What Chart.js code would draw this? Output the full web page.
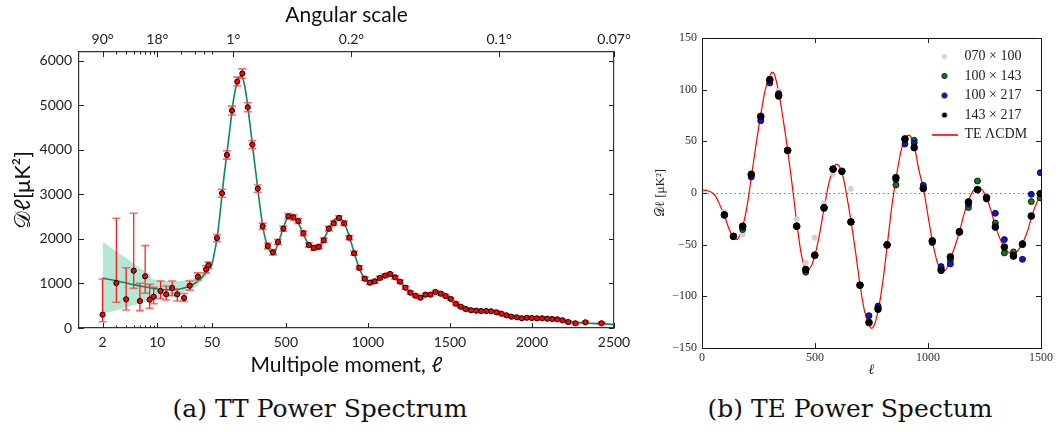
<!DOCTYPE html>
<html>
<head>
<meta charset="utf-8">
<script src="https://cdn.jsdelivr.net/npm/chart.js@4.4.1/dist/chart.umd.min.js"></script>
<style>
  body { margin: 0; background: #fff; width: 1059px; height: 432px; position: relative; overflow: hidden; }
  #ttBox { position: absolute; left: 0; top: 0; width: 650px; height: 385px; }
  #teBox { position: absolute; left: 650px; top: 0; width: 409px; height: 385px; }
  .cap { position: absolute; top: 394px; width: 400px; text-align: center;
         font-family: "DejaVu Serif", serif; font-size: 25px; color: #111; }
</style>
</head>
<body>
<div id="ttBox"><canvas id="tt"></canvas></div>
<div id="teBox"><canvas id="te"></canvas></div>
<div class="cap" style="left:120px">(a) TT Power Spectrum</div>
<div class="cap" style="left:650px">(b) TE Power Spectum</div>
<script>
// ---- (a) TT spectrum ----
const ttEll = [2, 3, 4, 5, 6, 7, 8, 9, 11, 13, 15.5, 18, 22, 26, 33, 42, 45,
  80, 111, 141, 172, 204, 235, 268, 296, 329, 359,
  390, 422, 452, 485, 515, 546, 576, 607, 640, 670,
  701, 731, 762, 792, 824, 855, 887, 916, 948, 981,
  1012, 1042, 1073, 1105, 1135, 1166, 1196, 1229, 1259, 1290,
  1320, 1351, 1381, 1412, 1444, 1474, 1505, 1536, 1566, 1597,
  1629, 1660, 1690, 1721, 1751, 1784, 1814, 1845, 1875, 1908,
  1938, 1969, 1999, 2030, 2062, 2093, 2123, 2154, 2186, 2221,
  2265, 2326, 2424];
const ttD = [300, 1011, 645, 1288, 607, 1161, 637, 704, 831, 757, 899, 757, 674, 951, 1153, 1318, 1409,
  2020, 3027, 3888, 4884, 5535, 5715, 4959, 4120, 3131, 2285,
  1843, 1700, 1932, 2232, 2510, 2487, 2404, 2127, 1865, 1798,
  1823, 1970, 2232, 2352, 2472, 2352, 2030, 1678, 1352, 1109,
  1019, 1049, 1124, 1176, 1213, 1139, 1041, 906, 794, 726,
  681, 749, 749, 809, 771, 719, 652, 546, 479, 427,
  398, 389, 382, 382, 375, 353, 321, 285, 254, 240,
  218, 231, 225, 218, 218, 209, 202, 195, 173, 135,
  106, 128, 106];
const ttErrHi = [800, 1454, 710, 1289, 397, 689, 344, 210, 225, 187, 157, 120, 100, 105, 85, 80, 70,
  80, 90, 95, 100, 100, 105, 100, 90, 80, 70,
  65, 60, 60, 60, 60, 60, 55, 55, 50, 50,
  50, 50, 50, 50, 50, 50, 45, 45, 45, 40,
  40, 40, 35, 35, 35, 35, 35, 35, 30, 30,
  30, 30, 30, 30, 30, 30, 30, 30, 25, 25,
  25, 25, 25, 25, 25, 25, 25, 25, 25, 25,
  25, 25, 25, 25, 25, 25, 25, 25, 25, 25,
  25, 25, 25];
const ttErrLo = [160, 434, 241, 396, 217, 381, 195, 158, 173, 128, 173, 150, 80, 100, 75, 80, 70,
  80, 90, 95, 100, 100, 105, 100, 90, 80, 70,
  65, 60, 60, 60, 60, 60, 55, 55, 50, 50,
  50, 50, 50, 50, 50, 50, 45, 45, 45, 40,
  40, 40, 35, 35, 35, 35, 35, 35, 30, 30,
  30, 30, 30, 30, 30, 30, 30, 30, 25, 25,
  25, 25, 25, 25, 25, 25, 25, 25, 25, 25,
  25, 25, 25, 25, 25, 25, 25, 25, 25, 25,
  25, 25, 25];
const ttModelEll = [2, 3, 4, 5, 6, 8, 10, 13, 16, 20, 25, 30, 35, 40, 45, 50,
  60, 80, 100, 120, 140, 160, 180, 200, 215, 225, 240, 260, 280, 300,
  320, 340, 360, 380, 400, 420, 440, 460, 480, 500, 520, 540, 560, 580, 600,
  620, 640, 660, 680, 700, 720, 740, 760, 780, 800, 820, 840, 860, 880, 900,
  920, 940, 960, 980, 1000, 1020, 1040, 1060, 1080, 1100, 1120, 1140, 1160, 1180, 1200,
  1220, 1240, 1260, 1280, 1300, 1320, 1340, 1360, 1380, 1400, 1420, 1440, 1460, 1480, 1500,
  1520, 1540, 1560, 1580, 1600, 1640, 1680, 1720, 1760, 1800, 1840, 1880, 1920, 1960, 2000,
  2050, 2100, 2150, 2200, 2250, 2300, 2350, 2400, 2450, 2500];
const ttModelD = [1120, 1060, 1010, 975, 945, 905, 875, 860, 860, 880, 930, 1000, 1090, 1200, 1310, 1430,
  1600, 2000, 2600, 3300, 3900, 4500, 5100, 5480, 5630, 5660, 5580, 5200, 4620, 4000,
  3400, 2800, 2270, 1930, 1740, 1690, 1780, 1980, 2200, 2400, 2500, 2510, 2450, 2330, 2170,
  2000, 1870, 1800, 1790, 1820, 1910, 2060, 2220, 2360, 2450, 2480, 2430, 2320, 2130, 1900,
  1650, 1420, 1240, 1110, 1040, 1020, 1040, 1090, 1140, 1180, 1205, 1205, 1170, 1110, 1030,
  940, 860, 790, 740, 710, 700, 715, 745, 775, 795, 795, 775, 740, 690, 630,
  570, 520, 475, 445, 420, 395, 385, 380, 370, 340, 300, 265, 240, 225, 220,
  215, 205, 190, 165, 135, 115, 105, 98, 92, 75];
// cosmic variance band at low multipoles
const cvEll = [2, 3, 4, 5, 6, 8, 8.5, 10, 15, 20, 30, 40, 50];
const cvHigh = [1940, 1720, 1570, 1450, 1350, 1200, 1100, 1080, 1050, 1055, 1120, 1280, 1490];
const cvLow = [320, 400, 460, 510, 550, 620, 630, 650, 720, 780, 900, 1110, 1370];

const ttXTicks = [2, 3, 4, 5, 6, 7, 8, 9, 10, 20, 30, 40, 50, 500, 1000, 1500, 2000, 2500];
const ttXLabels = ['2', '', '', '', '', '', '', '', '10', '', '', '', '50', '500', '1000', '1500', '2000', '2500'];
const angTicks = [2, 3, 4, 5, 6, 7, 8, 9, 10, 20, 30, 40, 50, 180, 900, 1800, 2500];
const angLabels = ['90°', '', '', '', '', '', '', '', '18°', '', '', '', '', '1°', '0.2°', '0.1°', '0.07°'];
const ttYTicks = [0, 1000, 2000, 3000, 4000, 5000, 6000];

// ---- (b) TE spectrum ----
const teEll = [99, 139, 180, 218, 260, 300, 339, 379, 419, 459, 499, 540, 580, 619, 659, 699, 739, 779,
  819, 858, 898, 939, 979, 1019, 1058, 1099, 1139, 1179, 1219, 1259, 1298, 1338, 1378, 1418, 1457, 1497];
const te070x100 = [-18.4, -42, -40, 18, 74, 111, 98.7, 41, -25.5, -67.7, -43.2, -10, 18.4, 21, 4,
  null, null, null, null, null, null, null, null, null, null, null, null, null, null, null, null, null, null, null, null, null];
const te100x143 = [-21, -42, -35.4, 17, 73, 109, 96.2, 41, -32, -76.7, -60, -14, 23, 21, -28, -89, -125, -113,
  -50, 7.7, 52, 51, 5, -46, -73, -65.1, -38, -14.1, 11.6, -5, -29, -58, -57, -49, -8.3, -4.8];
const te100x217 = [-21, -42, -33, 15.5, 70, 106.5, 93.5, 41, -32, -74, -60, -14, 23, 21, -28, -89, -118.7, -109.4,
  -50, 13, 47.4, 48.4, 7.5, -48, -71.2, -68.7, -37, -10.9, 3, -5.8, -19.6, -45.1, -60, -64.2, -1.3, 19.7];
const te143x217 = [-21.3, -41.9, -32.2, 18.1, 74.2, 109.7, 94.6, 41.3, -32.2, -74.2, -60.3, -14.5, 23.2, 21, -28, -89.3, -125.4, -111.9,
  -50.3, 14.9, 52.3, 43.9, 4.3, -46.5, -74.8, -61.9, -37.7, -8.7, 3.3, -4.5, -32.9, -52.3, -61, -49.6, -22.3, -0.6];
const teModelEll = [0, 20, 40, 60, 80, 100, 120, 140, 155, 170, 180, 200, 220, 240, 260, 280, 300, 310, 320, 340,
  360, 380, 400, 420, 440, 460, 470, 485, 500, 520, 540, 560, 580, 595, 610, 625, 640, 660, 680, 700,
  720, 740, 750, 760, 780, 800, 820, 840, 860, 880, 900, 915, 930, 940, 960, 980, 1000, 1020, 1040, 1060,
  1075, 1100, 1120, 1140, 1160, 1180, 1200, 1220, 1240, 1260, 1280, 1300, 1320, 1340, 1360, 1380, 1400, 1420, 1440, 1460,
  1480, 1500];
const teModelD = [3, 2.5, 1, -3, -12, -22, -35, -43, -45, -40, -33, -12, 18, 48, 76, 100, 113, 117, 115, 97,
  70, 40, 6, -30, -60, -74, -74, -70, -60, -40, -15, 8, 23, 28, 25, 15, -2, -28, -58, -90,
  -115, -128, -131, -129, -113, -86, -50, -13, 16, 40, 53, 56, 52, 45, 22, 4, -22, -47, -66, -75,
  -75, -63, -51, -37, -20, -7, 2, 5, 3, -5, -18, -33, -45, -53, -58, -59, -55, -48, -37, -22,
  -10, -2];
const teXTicks = [0, 500, 1000, 1500];
const teXLabels = ['0', '500', '1000', '1500'];
const teYTicks = [-150, -100, -50, 0, 50, 100, 150];
const teYLabels = ['\u2212150', '\u2212100', '\u221250', '0', '50', '100', '150'];

// log for l <= 50, linear above, like the Planck plot
class HybridScale extends Chart.LinearScale {
  static id = 'hybrid';
  static defaults = { ...Chart.LinearScale.defaults };
  frac(v) {
    const brk = 50, top = 2500, logPart = 0.2486;
    if (v <= brk) return logPart * Math.log10(Math.max(v, 1)) / Math.log10(brk);
    return logPart + (1 - logPart) * (v - brk) / (top - brk);
  }
  getPixelForValue(v) {
    if (v === null || v === undefined || isNaN(v)) return NaN;
    return this.getPixelForDecimal(this.frac(v));
  }
  getValueForPixel(p) {
    const d = this.getDecimalForPixel(p), logPart = 0.2486;
    if (d <= logPart) return Math.pow(10, d / logPart * Math.log10(50));
    return 50 + (d - logPart) / (1 - logPart) * 2450;
  }
}
Chart.register(HybridScale);

const pts = (xs, ys) => xs.map((x, i) => ({ x: x, y: ys[i] }));
const setTicks = (values) => (scale) => { scale.ticks = values.map(v => ({ value: v })); };

// matplotlib style ticks pointing into the plot
const inwardTicks = {
  id: 'inwardTicks',
  afterDraw(chart) {
    const { ctx, chartArea: a } = chart;
    ctx.save();
    ctx.strokeStyle = '#222';
    ctx.lineWidth = 1;
    Object.values(chart.scales).forEach(s => {
      s.ticks.forEach(t => {
        const len = t.label === '' ? 2.5 : 5;
        const p = Math.round(s.getPixelForValue(t.value)) + 0.5;
        ctx.beginPath();
        if (s.position === 'bottom') { ctx.moveTo(p, a.bottom); ctx.lineTo(p, a.bottom - len); }
        if (s.position === 'top') { ctx.moveTo(p, a.top); ctx.lineTo(p, a.top + len); }
        if (s.position === 'left') { ctx.moveTo(a.left, p); ctx.lineTo(a.left + len, p); }
        if (s.position === 'right') { ctx.moveTo(a.right, p); ctx.lineTo(a.right - len, p); }
        ctx.stroke();
      });
    });
    ctx.restore();
  }
};

// asymmetric error bars, drawn just before the data points
const errorBars = {
  id: 'errorBars',
  beforeDatasetDraw(chart, args) {
    const ds = chart.data.datasets[args.index];
    if (!ds.errHi) return;
    const { ctx, chartArea: a, scales: { x, y } } = chart;
    ctx.save();
    ctx.beginPath();
    ctx.rect(a.left, a.top, a.width, a.height);
    ctx.clip();
    ds.data.forEach((p, i) => {
      const px = x.getPixelForValue(p.x);
      const yt = y.getPixelForValue(p.y + ds.errHi[i]);
      const yb = y.getPixelForValue(p.y - ds.errLo[i]);
      ctx.strokeStyle = '#ff1010';
      ctx.lineWidth = 1.2;
      ctx.beginPath(); ctx.moveTo(px, yt); ctx.lineTo(px, yb); ctx.stroke();
      ctx.strokeStyle = 'rgba(255,70,70,0.8)';
      ctx.lineWidth = 1.6;
      ctx.beginPath();
      ctx.moveTo(px - 4, yt); ctx.lineTo(px + 4, yt);
      ctx.moveTo(px - 4, yb); ctx.lineTo(px + 4, yb);
      ctx.stroke();
    });
    ctx.restore();
  }
};

const sans = 'Lato, "DejaVu Sans", sans-serif';
const serif = '"Liberation Serif", "DejaVu Serif", serif';

new Chart(document.getElementById('tt'), {
  type: 'line',
  data: {
    datasets: [
      {
        label: 'Planck TT',
        data: pts(ttEll, ttD),
        errHi: ttErrHi,
        errLo: ttErrLo,
        showLine: false,
        pointRadius: 2.6,
        pointBackgroundColor: '#ff0000',
        pointBorderColor: '#000',
        pointBorderWidth: 1,
        order: 0,
      },
      {
        label: 'LCDM',
        data: pts(ttModelEll, ttModelD),
        borderColor: '#078a5c',
        borderWidth: 1.6,
        pointRadius: 0,
        cubicInterpolationMode: 'monotone',
        order: 1,
      },
      {
        label: 'cv low',
        data: pts(cvEll, cvLow),
        borderWidth: 0,
        pointRadius: 0,
        order: 2,
      },
      {
        label: 'cv high',
        data: pts(cvEll, cvHigh),
        borderWidth: 0,
        pointRadius: 0,
        fill: '-1',
        backgroundColor: 'rgba(120,212,176,0.55)',
        order: 2,
      },
    ],
  },
  options: {
    responsive: true,
    maintainAspectRatio: false,
    animation: false,
    layout: { padding: 0 },
    plugins: { legend: { display: false }, tooltip: { enabled: false } },
    scales: {
      x: {
        type: 'hybrid', position: 'bottom', min: 1, max: 2500, bounds: 'data',
        afterBuildTicks: setTicks(ttXTicks),
        afterFit: (s) => { s.height = 57; },
        grid: { display: false, drawTicks: false },
        border: { color: '#333', width: 1.2 },
        ticks: { autoSkip: false, maxRotation: 0, padding: 6, color: '#222',
                 font: { family: sans, size: 14 }, callback: (v, i) => ttXLabels[i] },
        title: { display: true, text: 'Multipole moment, \u2113', color: '#111',
                 font: { family: sans, size: 21 }, padding: { top: 0, bottom: 7 } },
      },
      xTop: {
        type: 'hybrid', position: 'top', min: 1, max: 2500, bounds: 'data',
        afterBuildTicks: setTicks(angTicks),
        afterFit: (s) => { s.height = 52; },
        grid: { display: false, drawTicks: false },
        border: { color: '#333', width: 1.2 },
        ticks: { autoSkip: false, maxRotation: 0, padding: 4, color: '#222',
                 font: { family: sans, size: 14 }, callback: (v, i) => angLabels[i] },
        title: { display: true, text: 'Angular scale', color: '#111',
                 font: { family: sans, size: 21 }, padding: { top: 3, bottom: 0 } },
      },
      y: {
        type: 'linear', position: 'left', min: 0, max: 6200, bounds: 'data',
        afterBuildTicks: setTicks(ttYTicks),
        afterFit: (s) => { s.width = 79; },
        grid: { display: false, drawTicks: false },
        border: { color: '#333', width: 1.2 },
        ticks: { padding: 7, color: '#222', font: { family: sans, size: 14 },
                 callback: (v) => String(v) },
        title: { display: true, text: '\uD835\uDC9F\u2113[\u03BCK\u00B2]', color: '#111',
                 font: { family: sans, size: 22 }, padding: { top: 10, bottom: 0 } },
      },
      yRight: {
        type: 'linear', position: 'right', min: 0, max: 6200, bounds: 'data',
        afterBuildTicks: setTicks(ttYTicks),
        afterFit: (s) => { s.width = 36; },
        grid: { display: false, drawTicks: false },
        border: { color: '#333', width: 1.2 },
        ticks: { display: false },
      },
    },
  },
  plugins: [errorBars, inwardTicks],
});

// small legend markers, matplotlib-like
function dotIcon(fill, stroke) {
  const c = document.createElement('canvas');
  c.width = 8; c.height = 8;
  const g = c.getContext('2d');
  g.beginPath(); g.arc(4, 4, 2.6, 0, 2 * Math.PI);
  g.fillStyle = fill; g.fill();
  if (stroke) { g.lineWidth = 0.8; g.strokeStyle = stroke; g.stroke(); }
  return c;
}
function lineIcon(color) {
  const c = document.createElement('canvas');
  c.width = 26; c.height = 2;
  const g = c.getContext('2d');
  g.fillStyle = color; g.fillRect(0, 0, 26, 2);
  return c;
}
const teIcons = [dotIcon('#d3d3d3'), dotIcon('#167a16', '#000'), dotIcon('#1212d8', '#000'), dotIcon('#000'), lineIcon('#ff3030')];

const legendInside = {
  id: 'legendInside',
  afterLayout(chart) {
    const lg = chart.legend, a = chart.chartArea;
    const w = lg.width, h = lg.height;
    lg.left = a.right - 115; lg.right = lg.left + w;
    lg.top = a.top + 6; lg.bottom = lg.top + h;
  }
};

new Chart(document.getElementById('te'), {
  type: 'line',
  data: {
    datasets: [
      { label: '070 \u00D7 100', data: pts(teEll, te070x100), showLine: false, pointRadius: 3,
        pointBackgroundColor: '#d3d3d3', pointBorderColor: '#d3d3d3', pointBorderWidth: 0, order: 4 },
      { label: '100 \u00D7 143', data: pts(teEll, te100x143), showLine: false, pointRadius: 3,
        pointBackgroundColor: '#167a16', pointBorderColor: '#000', pointBorderWidth: 0.8, order: 3 },
      { label: '100 \u00D7 217', data: pts(teEll, te100x217), showLine: false, pointRadius: 3,
        pointBackgroundColor: '#1212d8', pointBorderColor: '#000', pointBorderWidth: 0.8, order: 2 },
      { label: '143 \u00D7 217', data: pts(teEll, te143x217), showLine: false, pointRadius: 3.4,
        pointBackgroundColor: '#000', pointBorderColor: '#000', pointBorderWidth: 0.8, order: 1 },
      { label: 'TE \u039BCDM', data: pts(teModelEll, teModelD), borderColor: '#ff0000', borderWidth: 1.2,
        pointRadius: 0, cubicInterpolationMode: 'monotone', order: 5 },
    ],
  },
  options: {
    responsive: true,
    maintainAspectRatio: false,
    animation: false,
    layout: { padding: 0 },
    plugins: {
      tooltip: { enabled: false },
      legend: {
        position: 'chartArea',
        align: 'start',
        labels: {
          usePointStyle: true,
          pointStyleWidth: 26,
          padding: 5.5,
          color: '#222',
          font: { family: serif, size: 14 },
          sort: (a, b) => a.datasetIndex - b.datasetIndex,
          generateLabels: (chart) => Chart.defaults.plugins.legend.labels.generateLabels(chart)
            .map(it => ({ ...it, pointStyle: teIcons[it.datasetIndex] })),
        },
      },
    },
    scales: {
      x: {
        type: 'linear', position: 'bottom', min: 0, max: 1500, bounds: 'data',
        afterBuildTicks: setTicks(teXTicks),
        afterFit: (s) => { s.height = 37; },
        grid: { display: false, drawTicks: false },
        border: { color: '#111', width: 1 },
        ticks: { maxRotation: 0, padding: 3, color: '#333', font: { family: serif, size: 12 },
                 callback: (v, i) => teXLabels[i] },
        title: { display: true, text: '\u2113', color: '#222',
                 font: { family: serif, size: 14, style: 'italic' }, padding: { top: 0, bottom: 6 } },
      },
      xTop: {
        type: 'linear', position: 'top', min: 0, max: 1500, bounds: 'data',
        afterBuildTicks: setTicks(teXTicks),
        afterFit: (s) => { s.height = 38; },
        grid: { display: false, drawTicks: false },
        border: { color: '#111', width: 1 },
        ticks: { display: false },
      },
      y: {
        type: 'linear', position: 'left', min: -150, max: 150, bounds: 'data',
        afterBuildTicks: setTicks(teYTicks),
        afterFit: (s) => { s.width = 52; },
        grid: { display: true, drawTicks: false, lineWidth: 1,
                color: (c) => (c.tick && c.tick.value === 0 ? '#777' : 'rgba(0,0,0,0)') },
        border: { color: '#111', width: 1, dash: [1.5, 3] },
        ticks: { padding: 5, color: '#333', font: { family: serif, size: 12 },
                 callback: (v, i) => teYLabels[i] },
        title: { display: true, text: '\uD835\uDC9F\u2113 [\u03BCK\u00B2]', color: '#222',
                 font: { family: serif, size: 13 }, padding: { top: 3, bottom: 0 } },
      },
      yRight: {
        type: 'linear', position: 'right', min: -150, max: 150, bounds: 'data',
        afterBuildTicks: setTicks(teYTicks),
        afterFit: (s) => { s.width = 18; },
        grid: { display: false, drawTicks: false },
        border: { color: '#111', width: 1 },
        ticks: { display: false },
      },
    },
  },
  plugins: [legendInside, inwardTicks],
});
</script>
</body>
</html>
